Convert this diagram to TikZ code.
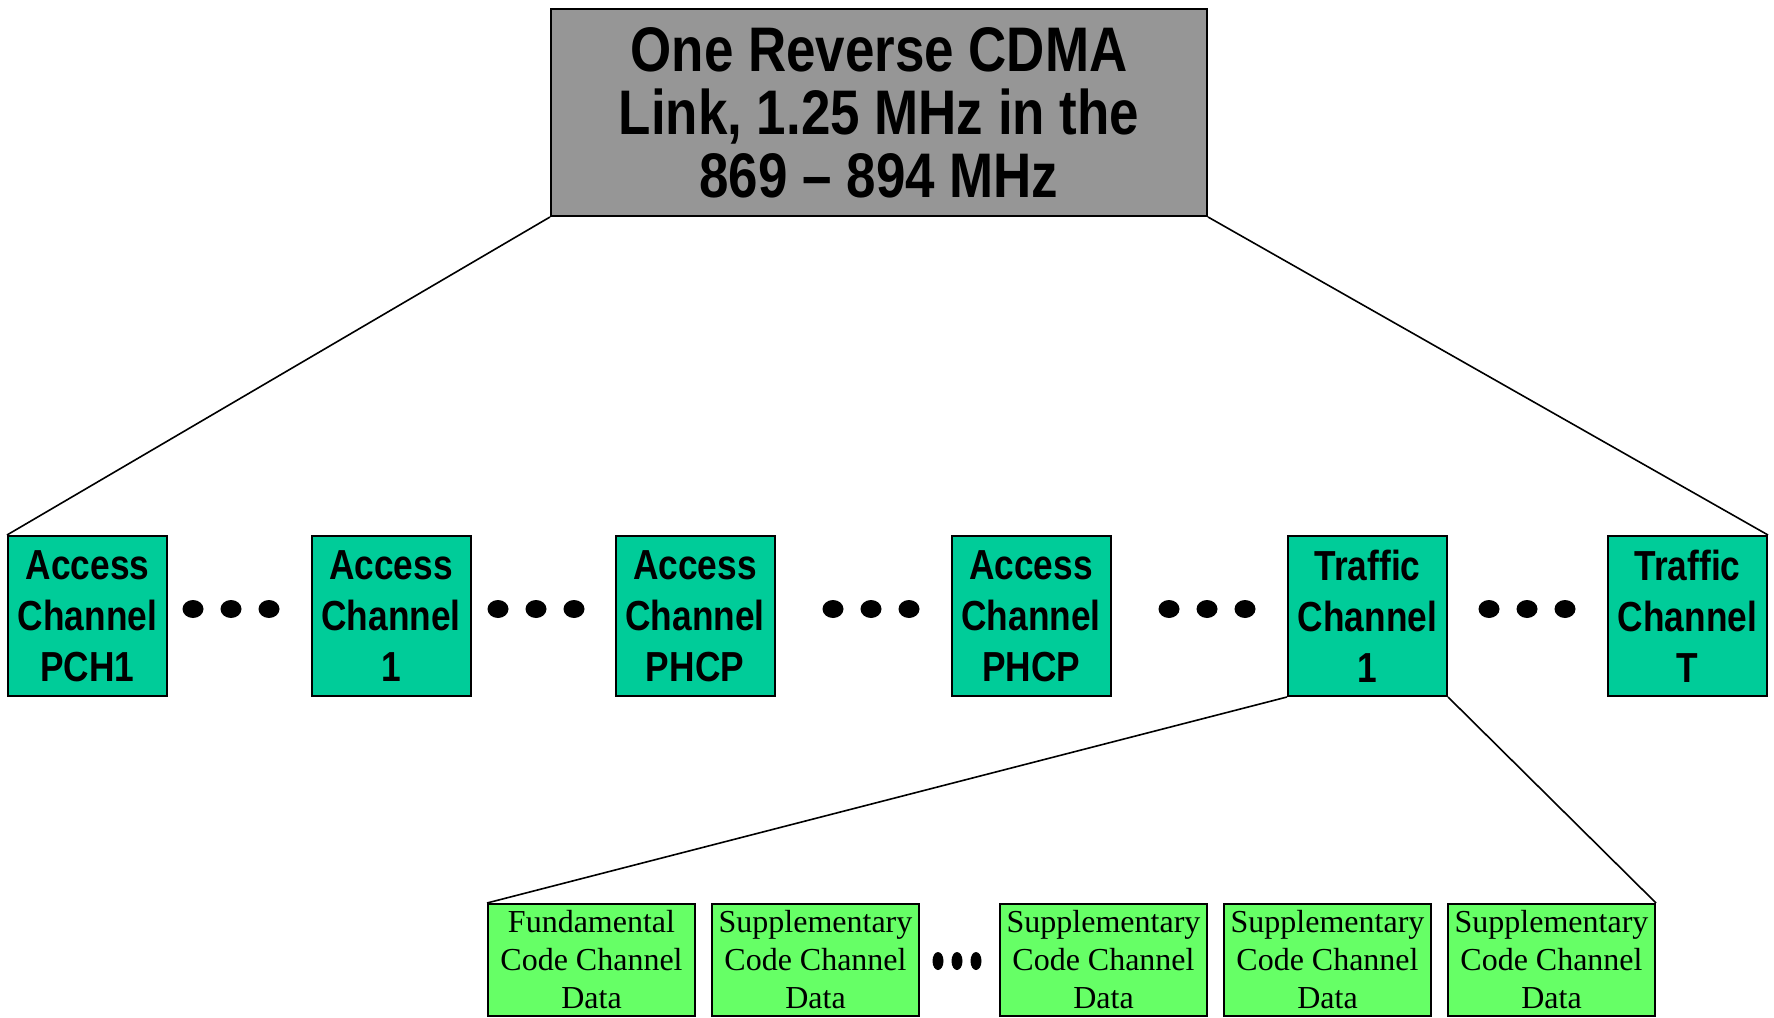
\documentclass[tikz,border=0pt]{standalone}
\usepackage{fontspec}
\newfontfamily\hdrfont[FakeStretch=0.84]{Liberation Sans}
\newfontfamily\subfont{Liberation Serif}
\definecolor{linkgray}{HTML}{969696}
\definecolor{chanteal}{HTML}{00CC99}
\definecolor{codegreen}{HTML}{66FF66}
\tikzset{
  linkbox/.style={draw, line width=2pt, fill=linkgray, minimum width=656pt,
    minimum height=207pt, inner sep=0pt, align=center,
    font=\hdrfont\bfseries\fontsize{63}{63}\selectfont},
  chanbox/.style={draw, line width=2pt, fill=chanteal, minimum width=159pt,
    minimum height=160pt, inner sep=0pt, align=center,
    font=\hdrfont\bfseries\fontsize{42}{51}\selectfont},
  codebox/.style={draw, line width=2pt, fill=codegreen, minimum width=207pt,
    minimum height=112pt, inner sep=0pt, align=center,
    font=\subfont\fontsize{32}{38}\selectfont},
  fanline/.style={line width=1.6pt},
}
\begin{document}
\begin{tikzpicture}[x=1pt, y=-1pt]
  \useasboundingbox (0,0) rectangle (1774,1017);

  % carrier
  \node[linkbox] (link) at (879,112.5) {One Reverse CDMA\\Link, 1.25 MHz in the\\869 – 894 MHz};

  % channels on the carrier
  \node[chanbox] (acc0) at (87.5,616)  {Access\\Channel\\PCH1};
  \node[chanbox] (acc1) at (391,616)   {Access\\Channel\\1};
  \node[chanbox] (acc2) at (695,616)   {Access\\Channel\\PHCP};
  \node[chanbox] (acc3) at (1031,616)  {Access\\Channel\\PHCP};
  \node[chanbox] (trf1) at (1367.5,616) {Traffic\\Channel\\1};
  \node[chanbox] (trfT) at (1687.5,616) {Traffic\\Channel\\T};

  % code channels of one traffic channel
  \node[codebox] (fund) at (591.5,960)  {Fundamental\\Code Channel\\Data};
  \node[codebox] (sup1) at (815.5,960)  {Supplementary\\Code Channel\\Data};
  \node[codebox] (sup2) at (1103.5,960) {Supplementary\\Code Channel\\Data};
  \node[codebox] (sup3) at (1327.5,960) {Supplementary\\Code Channel\\Data};
  \node[codebox] (sup4) at (1551.5,960) {Supplementary\\Code Channel\\Data};

  % ellipsis dots between channels
  \foreach \cx in {193,231,269, 498,536,574, 833,871,909, 1169,1207,1245, 1489,1527,1565}
    \fill (\cx,609) ellipse [x radius=10.5pt, y radius=9pt];
  \foreach \cx in {938,957,976}
    \fill (\cx,961) ellipse [x radius=5.5pt, y radius=9pt];

  % fan-out lines
  \draw[fanline] (link.south west) -- (acc0.north west);
  \draw[fanline] (link.south east) -- (trfT.north east);
  \draw[fanline] (trf1.south west) -- (fund.north west);
  \draw[fanline] (trf1.south east) -- (sup4.north east);
\end{tikzpicture}
\end{document}
